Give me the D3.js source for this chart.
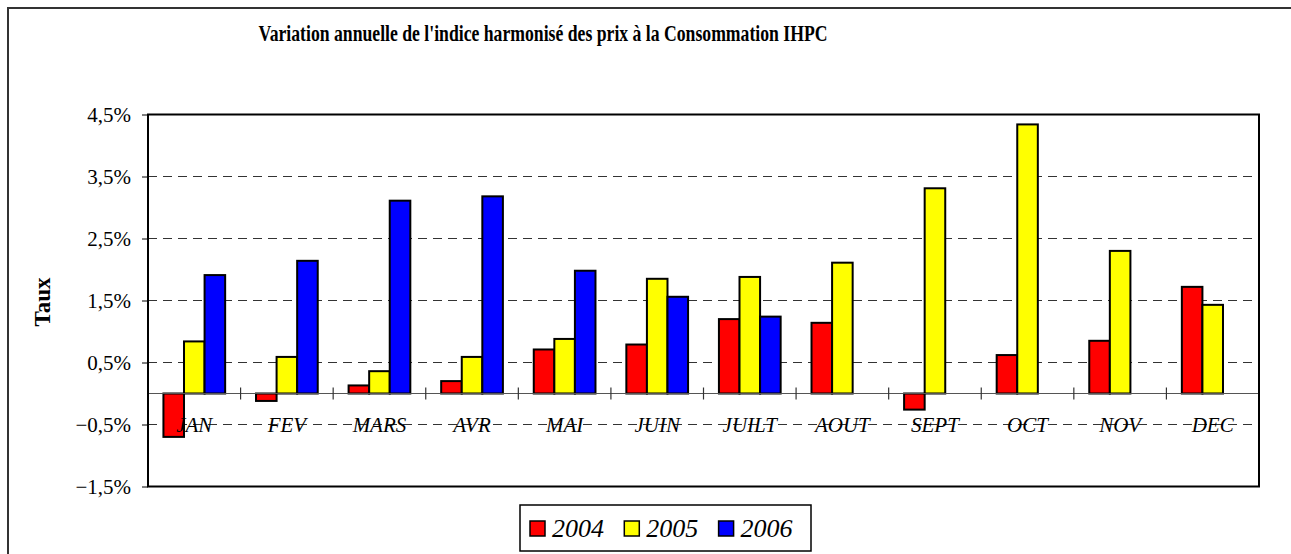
<!DOCTYPE html>
<html>
<head>
<meta charset="utf-8">
<script src="https://cdn.jsdelivr.net/npm/d3@7"></script>
<style>
    body { margin: 0; background: #fff; }
    text { font-family: "Liberation Serif", "Times New Roman", serif; }
</style>
</head>
<body>
<div id="chart"></div>
<script>
// values (%)
const months = ["JAN", "FEV", "MARS", "AVR", "MAI", "JUIN", "JUILT", "AOUT", "SEPT", "OCT", "NOV", "DEC"];
const years = ["2004", "2005", "2006"];
const v2004 = [-0.70, -0.12, 0.13, 0.20, 0.71, 0.79, 1.20, 1.14, -0.26, 0.62, 0.85, 1.72];
const v2005 = [0.84, 0.59, 0.36, 0.59, 0.88, 1.85, 1.88, 2.11, 3.31, 4.34, 2.30, 1.43];
const v2006 = [1.91, 2.14, 3.11, 3.18, 1.98, 1.56, 1.24, null, null, null, null, null];
const yTicks = [-1.5, -0.5, 0.5, 1.5, 2.5, 3.5, 4.5];
const colors = ["#ff0000", "#ffff00", "#0000ff"];
const title = "Variation annuelle de l'indice harmonisé des prix à la Consommation IHPC";

let width = 1291, height = 554;
let plot = {left: 148, right: 1259, top: 114.5, bottom: 486.5};

let svg = d3.select("#chart").append("svg")
    .attr("width", width)
    .attr("height", height);

// outer frame (cut off on the right and bottom)
svg.append("rect")
    .attr("x", 8).attr("y", 8)
    .attr("width", 1400).attr("height", 700)
    .attr("fill", "#fff")
    .attr("stroke", "#333")
    .attr("stroke-width", 2);

svg.append("text")
    .attr("x", 543).attr("y", 41)
    .attr("text-anchor", "middle")
    .attr("font-weight", "bold")
    .attr("font-size", 23)
    .attr("textLength", 569)
    .attr("lengthAdjust", "spacingAndGlyphs")
    .text(title);

let y = d3.scaleLinear().domain([-1.5, 4.5]).range([plot.bottom, plot.top]);

let x = d3.scaleBand()
    .domain(months)
    .range([plot.left, plot.right])
    .paddingInner(1 / 3)
    .paddingOuter(1 / 6);

let xs = d3.scaleBand().domain(years).range([0, x.bandwidth()]);

let rows = months.map((m, i) => ({month: m, values: [v2004[i], v2005[i], v2006[i]]}));

// gridlines
svg.append("g")
    .selectAll("line")
    .data(yTicks)
    .enter().append("line")
    .attr("x1", plot.left).attr("x2", plot.right)
    .attr("y1", d => y(d)).attr("y2", d => y(d))
    .attr("stroke", "#333")
    .attr("stroke-width", 1)
    .attr("stroke-dasharray", "9,6");

// y axis labels
let locale = d3.formatLocale({decimal: ",", thousands: " ", grouping: [3], currency: ["", "%"]});
let fmt = locale.format(".1f");

let yAxis = d3.axisLeft(y)
    .tickValues(yTicks)
    .tickSize(6)
    .tickPadding(11)
    .tickFormat(d => fmt(d) + "%");

svg.append("g")
    .attr("transform", "translate(" + plot.left + ",0)")
    .call(yAxis)
    .call(g => g.select(".domain").remove())
    .call(g => g.selectAll("line").attr("stroke", "#000"))
    .call(g => g.selectAll("text")
        .attr("font-size", 21)
        .attr("fill", "#000"));

svg.append("text")
    .attr("transform", "translate(50,302) rotate(-90)")
    .attr("text-anchor", "middle")
    .attr("font-weight", "bold")
    .attr("font-size", 23)
    .text("Taux");

// bars
svg.append("g")
    .selectAll("g")
    .data(rows)
    .enter().append("g")
    .attr("transform", d => "translate(" + x(d.month) + ",0)")
    .selectAll("rect")
    .data(d => d.values.map((v, i) => ({year: years[i], v: v, c: colors[i]})).filter(e => e.v !== null))
    .enter().append("rect")
    .attr("x", d => xs(d.year))
    .attr("width", xs.bandwidth())
    .attr("y", d => y(Math.max(0, d.v)))
    .attr("height", d => Math.abs(y(d.v) - y(0)))
    .attr("fill", d => d.c)
    .attr("stroke", "#000")
    .attr("stroke-width", 2);

// zero axis with category ticks
svg.append("line")
    .attr("x1", plot.left).attr("x2", plot.right)
    .attr("y1", y(0)).attr("y2", y(0))
    .attr("stroke", "#555")
    .attr("stroke-width", 1.2);

let step = x.step();
svg.append("g")
    .selectAll("line")
    .data(months.slice(1))
    .enter().append("line")
    .attr("x1", d => x(d) - step * x.paddingInner() / 2)
    .attr("x2", d => x(d) - step * x.paddingInner() / 2)
    .attr("y1", y(0) - 6).attr("y2", y(0) + 6)
    .attr("stroke", "#333")
    .attr("stroke-width", 1.2);

// month labels
svg.append("g")
    .selectAll("text")
    .data(months)
    .enter().append("text")
    .attr("x", d => x(d) + x.bandwidth() / 2)
    .attr("y", y(0) + 38)
    .attr("text-anchor", "middle")
    .attr("font-style", "italic")
    .attr("font-size", 21)
    .text(d => d);

// plot frame
svg.append("rect")
    .attr("x", plot.left).attr("y", plot.top)
    .attr("width", plot.right - plot.left)
    .attr("height", plot.bottom - plot.top)
    .attr("fill", "none")
    .attr("stroke", "#000")
    .attr("stroke-width", 2);

// legend
let legend = svg.append("g").attr("transform", "translate(520,505)");
legend.append("rect")
    .attr("width", 291).attr("height", 46)
    .attr("fill", "#fff")
    .attr("stroke", "#000")
    .attr("stroke-width", 1.5);

let item = legend.selectAll("g.item")
    .data(years)
    .enter().append("g")
    .attr("class", "item")
    .attr("transform", (d, i) => "translate(" + (10 + i * 94.3) + ",0)");

item.append("rect")
    .attr("y", 16)
    .attr("width", 15).attr("height", 15)
    .attr("fill", (d, i) => colors[i])
    .attr("stroke", "#000")
    .attr("stroke-width", 1.5);

item.append("text")
    .attr("x", 22).attr("y", 32)
    .attr("font-style", "italic")
    .attr("font-size", 26)
    .text(d => d);
</script>
</body>
</html>
